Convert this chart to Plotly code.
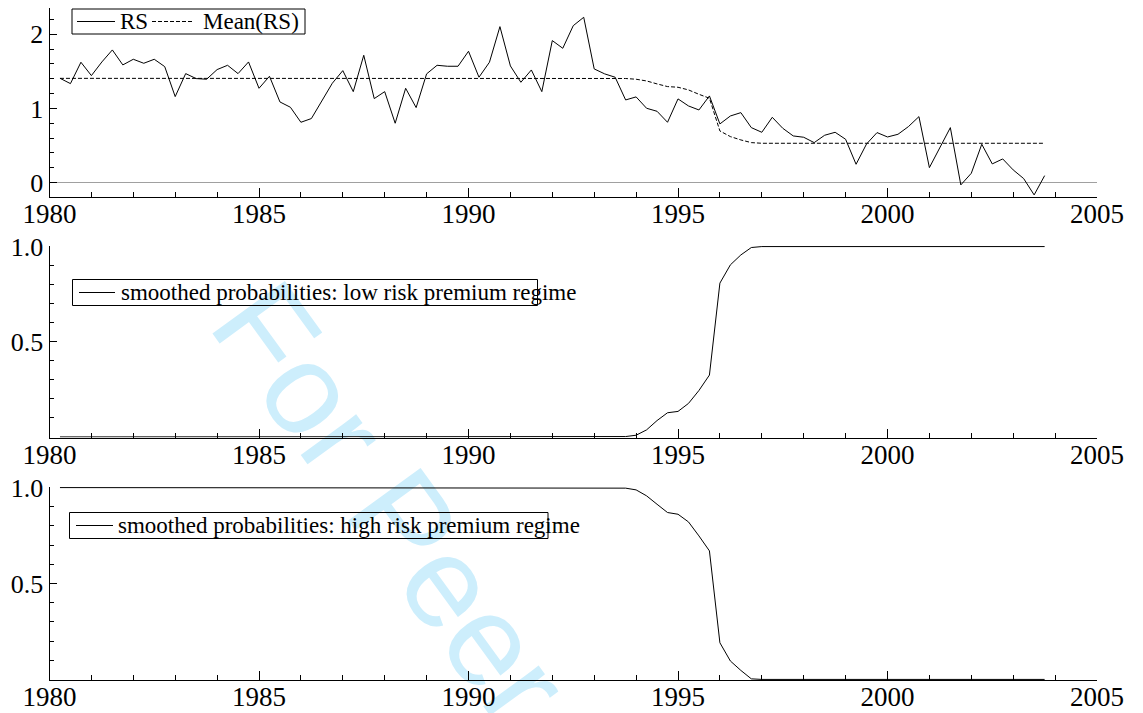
import plotly.graph_objects as go

# page body adds an 8px margin; the figure fills the rest of the window
OFF = 8
W, H = 1143 - OFF, 713 - OFF

# ---------------- data (quarterly, 1980Q2 .. 2003Q4) ----------------
quarters = [1980 + 0.25 * i for i in range(1, 96)]

rs = [
    1.406, 1.334, 1.622,                 # 1980
    1.442, 1.626, 1.788, 1.586,          # 1981
    1.662, 1.608, 1.662, 1.563,          # 1982
    1.159, 1.469, 1.402, 1.393,          # 1983
    1.523, 1.581, 1.469, 1.626,          # 1984
    1.271, 1.433, 1.087, 1.015,          # 1985
    0.813, 0.863, 1.092, 1.339,          # 1986
    1.509, 1.226, 1.716, 1.132,          # 1987
    1.226, 0.800, 1.271, 1.011,          # 1988
    1.465, 1.581, 1.568, 1.568,          # 1989
    1.770, 1.420, 1.622, 2.102,          # 1990
    1.572, 1.352, 1.518, 1.226,          # 1991
    1.914, 1.810, 2.115, 2.228,          # 1992
    1.532, 1.465, 1.420, 1.114,          # 1993
    1.155, 1.002, 0.961, 0.813,          # 1994
    1.128, 1.033, 0.979, 1.168,          # 1995
    0.791, 0.898, 0.943, 0.741,          # 1996
    0.678, 0.880, 0.732, 0.629,          # 1997
    0.611, 0.539, 0.638, 0.678,          # 1998
    0.584, 0.247, 0.521, 0.674,          # 1999
    0.615, 0.651, 0.755, 0.889,          # 2000
    0.202, 0.472, 0.741, -0.031,         # 2001
    0.126, 0.517, 0.252, 0.319,          # 2002
    0.171, 0.054, -0.166, 0.094,         # 2003
]

mean_rs = [
    1.405, 1.405, 1.405,                 # 1980
    1.405, 1.405, 1.405, 1.405,          # 1981
    1.405, 1.405, 1.405, 1.405,          # 1982
    1.405, 1.405, 1.405, 1.405,          # 1983
    1.405, 1.405, 1.405, 1.405,          # 1984
    1.405, 1.405, 1.405, 1.405,          # 1985
    1.405, 1.405, 1.405, 1.405,          # 1986
    1.405, 1.405, 1.405, 1.405,          # 1987
    1.405, 1.405, 1.405, 1.405,          # 1988
    1.405, 1.405, 1.405, 1.405,          # 1989
    1.405, 1.405, 1.405, 1.405,          # 1990
    1.405, 1.405, 1.405, 1.405,          # 1991
    1.405, 1.405, 1.405, 1.405,          # 1992
    1.405, 1.405, 1.405, 1.403,          # 1993
    1.393, 1.370, 1.330, 1.294,          # 1994
    1.285, 1.249, 1.190, 1.137,          # 1995
    0.696, 0.620, 0.575, 0.539,          # 1996
    0.530, 0.530, 0.530, 0.530,          # 1997
    0.530, 0.530, 0.530, 0.530,          # 1998
    0.530, 0.530, 0.530, 0.530,          # 1999
    0.530, 0.530, 0.530, 0.530,          # 2000
    0.530, 0.530, 0.530, 0.530,          # 2001
    0.530, 0.530, 0.530, 0.530,          # 2002
    0.530, 0.530, 0.530, 0.530,          # 2003
]

p_low = [
    0.0, 0.0, 0.0,                       # 1980
    0.0, 0.0, 0.0, 0.0,                  # 1981
    0.0, 0.0, 0.0, 0.0,                  # 1982
    0.0, 0.0, 0.0, 0.0,                  # 1983
    0.0, 0.0, 0.0, 0.0,                  # 1984
    0.0, 0.0, 0.0, 0.0,                  # 1985
    0.0, 0.0, 0.0, 0.0,                  # 1986
    0.0, 0.0, 0.0, 0.0,                  # 1987
    0.0, 0.0, 0.0, 0.0,                  # 1988
    0.0, 0.0, 0.0, 0.0,                  # 1989
    0.0, 0.0, 0.0, 0.0,                  # 1990
    0.0, 0.0, 0.0, 0.0,                  # 1991
    0.0, 0.0, 0.0, 0.0,                  # 1992
    0.0, 0.0, 0.0, 0.002,                # 1993
    0.009, 0.037, 0.086, 0.127,          # 1994
    0.134, 0.176, 0.244, 0.325,          # 1995
    0.808, 0.904, 0.956, 0.995,          # 1996
    1.0, 1.0, 1.0, 1.0,                  # 1997
    1.0, 1.0, 1.0, 1.0,                  # 1998
    1.0, 1.0, 1.0, 1.0,                  # 1999
    1.0, 1.0, 1.0, 1.0,                  # 2000
    1.0, 1.0, 1.0, 1.0,                  # 2001
    1.0, 1.0, 1.0, 1.0,                  # 2002
    1.0, 1.0, 1.0, 1.0,                  # 2003
]

p_high = [
    1.0, 1.0, 1.0,                       # 1980
    1.0, 1.0, 1.0, 1.0,                  # 1981
    1.0, 1.0, 1.0, 1.0,                  # 1982
    1.0, 1.0, 1.0, 1.0,                  # 1983
    1.0, 1.0, 1.0, 1.0,                  # 1984
    1.0, 1.0, 1.0, 1.0,                  # 1985
    1.0, 1.0, 1.0, 1.0,                  # 1986
    1.0, 1.0, 1.0, 1.0,                  # 1987
    1.0, 1.0, 1.0, 1.0,                  # 1988
    1.0, 1.0, 1.0, 1.0,                  # 1989
    1.0, 1.0, 1.0, 1.0,                  # 1990
    1.0, 1.0, 1.0, 1.0,                  # 1991
    1.0, 1.0, 1.0, 1.0,                  # 1992
    1.0, 1.0, 1.0, 0.997,                # 1993
    0.988, 0.957, 0.913, 0.870,          # 1994
    0.861, 0.821, 0.748, 0.670,          # 1995
    0.191, 0.096, 0.047, 0.003,          # 1996
    0.0, 0.0, 0.0, 0.0,                  # 1997
    0.0, 0.0, 0.0, 0.0,                  # 1998
    0.0, 0.0, 0.0, 0.0,                  # 1999
    0.0, 0.0, 0.0, 0.0,                  # 2000
    0.0, 0.0, 0.0, 0.0,                  # 2001
    0.0, 0.0, 0.0, 0.0,                  # 2002
    0.0, 0.0, 0.0, 0.0,                  # 2003
]

x_ticks = [1980, 1985, 1990, 1995, 2000, 2005]
top_y_ticks = [0, 1, 2]
prob_y_ticks = [0.5, 1.0]
prob_y_labels = ["0.5", "1.0"]

legend_top = ["RS", "Mean(RS)"]
legend_mid = "smoothed probabilities: low risk premium regime"
legend_bot = "smoothed probabilities: high risk premium regime"
watermark = "For Peer"

# ---------------- helpers (screen pixel -> paper) ----------------
def px(x):
    return (x - OFF) / W

def py(y):
    return 1 - (y - OFF) / H

SERIF = "Liberation Serif"
TICKFONT = dict(family=SERIF, size=27, color="black")

x_dom = [px(49.5), px(1097)]

def xaxis(anchor):
    return dict(
        domain=x_dom, anchor=anchor, range=[1980, 2005], automargin=False,
        tickmode="array", tickvals=x_ticks, ticktext=[str(v) for v in x_ticks],
        ticks="inside", ticklen=9, tickwidth=1, tickcolor="black",
        ticklabelstandoff=-7,
        showline=True, linecolor="black", linewidth=1,
        showgrid=False, zeroline=False, tickfont=TICKFONT,
        minor=dict(dtick=1, tick0=1980, ticks="inside", ticklen=5,
                   tickwidth=1, tickcolor="black", showgrid=False),
        fixedrange=True,
    )

def yaxis(anchor, dom, rng, tickvals, ticktext, minor_dtick, zeroline=False):
    return dict(
        domain=dom, anchor=anchor, range=rng, automargin=False,
        tickmode="array", tickvals=tickvals, ticktext=ticktext,
        ticks="inside", ticklen=7, tickwidth=1, tickcolor="black",
        showline=True, linecolor="black", linewidth=1,
        showgrid=False, zeroline=zeroline, zerolinecolor="#a0a0a0", zerolinewidth=1,
        tickfont=dict(family=SERIF, size=26, color="black"),
        minor=dict(dtick=minor_dtick, tick0=0, ticks="inside", ticklen=4,
                   tickwidth=1, tickcolor="black", showgrid=False),
        fixedrange=True,
    )

fig = go.Figure()

line_kw = dict(color="black", width=1)
fig.add_trace(go.Scatter(x=quarters, y=rs, mode="lines", line=line_kw,
                         xaxis="x", yaxis="y", name=legend_top[0], showlegend=False))
fig.add_trace(go.Scatter(x=quarters, y=mean_rs, mode="lines",
                         line=dict(color="black", width=1, dash="4px,2px"),
                         xaxis="x", yaxis="y", name=legend_top[1], showlegend=False))
fig.add_trace(go.Scatter(x=quarters, y=p_low, mode="lines", line=line_kw,
                         xaxis="x2", yaxis="y2", name=legend_mid, showlegend=False))
fig.add_trace(go.Scatter(x=quarters, y=p_high, mode="lines", line=line_kw,
                         xaxis="x3", yaxis="y3", name=legend_bot, showlegend=False))

fig.update_layout(
    width=W, height=H, autosize=False,
    margin=dict(l=0, r=0, t=0, b=0, pad=0, autoexpand=False),
    paper_bgcolor="white", plot_bgcolor="rgba(0,0,0,0)",
    showlegend=False,
    xaxis=xaxis("y"),
    xaxis2=xaxis("y2"),
    xaxis3=xaxis("y3"),
    yaxis=yaxis("x", [py(196.7), 1.0], [-0.19, 2.353], top_y_ticks,
                [str(v) for v in top_y_ticks], 0.2, zeroline=True),
    yaxis2=yaxis("x2", [py(437.5), py(246)], [-0.003, 1.003], prob_y_ticks,
                 prob_y_labels, 0.1),
    yaxis3=yaxis("x3", [py(680), py(487)], [-0.003, 1.003], prob_y_ticks,
                 prob_y_labels, 0.1),
)

shapes = []
annotations = []

# watermark (drawn below the traces)
cx, cy = 401, 496
shapes.append(dict(
    type="rect", xref="paper", yref="paper",
    x0=px(cx - 100), x1=px(cx + 100), y0=py(cy + 100), y1=py(cy - 100),
    line=dict(width=0), fillcolor="rgba(0,0,0,0)", layer="below",
    label=dict(text=watermark, textangle=54, textposition="middle center",
               font=dict(family="Liberation Sans", size=130, color="#cdeefc")),
))

LEGFONT = dict(family=SERIF, size=23, color="black")

def legend_box(x0, x1, y0, y1):
    shapes.append(dict(type="rect", xref="paper", yref="paper",
                       x0=px(x0), x1=px(x1), y0=py(y1), y1=py(y0),
                       line=dict(color="black", width=1), fillcolor="rgba(0,0,0,0)"))

def legend_line(x0, x1, y, dash="solid"):
    shapes.append(dict(type="line", xref="paper", yref="paper",
                       x0=px(x0), x1=px(x1), y0=py(y), y1=py(y),
                       line=dict(color="black", width=1, dash=dash)))

def legend_text(x, y, text):
    annotations.append(dict(xref="paper", yref="paper", x=px(x), y=py(y),
                            xanchor="left", yanchor="middle", showarrow=False,
                            text=text, font=LEGFONT))

# top legend
legend_box(72, 305, 9, 34)
legend_line(77, 115, 21.5)
legend_text(118, 21.5, legend_top[0])
legend_line(152, 192, 21.5, dash="4px,2px")
legend_text(201, 21.5, legend_top[1])

# middle legend
legend_box(72.5, 537.5, 279.5, 305.5)
legend_line(79, 115, 292.5)
legend_text(119, 292.5, legend_mid)

# bottom legend
legend_box(69.5, 548, 512.5, 538.5)
legend_line(76, 113, 525.5)
legend_text(116, 525.5, legend_bot)

fig.update_layout(shapes=shapes, annotations=annotations)

fig.write_html("out.html")
